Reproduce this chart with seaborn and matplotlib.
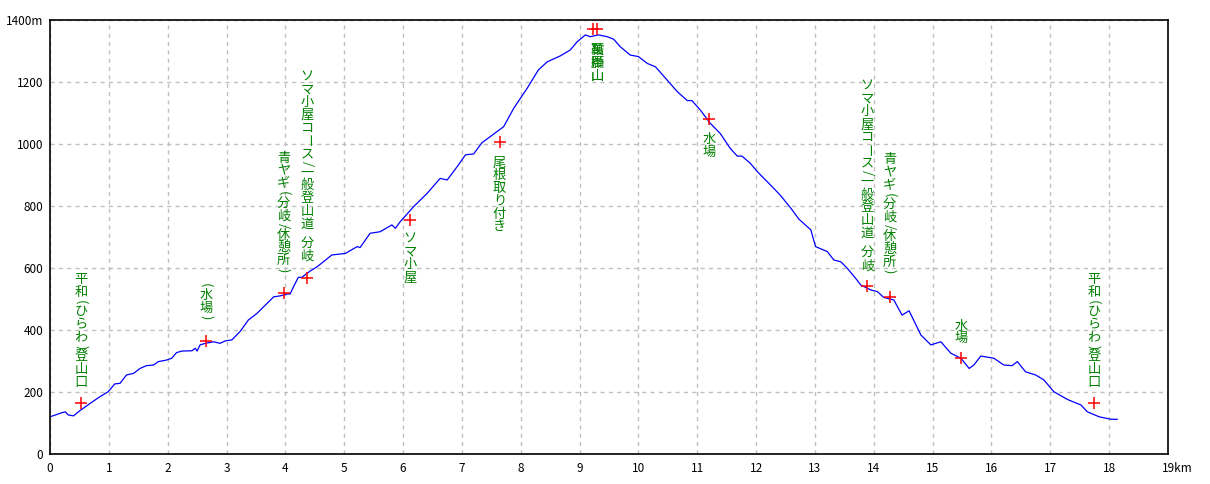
import pandas as pd
import seaborn as sns
import matplotlib.pyplot as plt
from matplotlib.transforms import offset_copy, ScaledTranslation

# elevation profile (km, m)
dist_km = [0.0, 0.2, 0.26, 0.31, 0.4, 0.51, 0.68, 0.85, 0.99, 1.1, 1.19, 1.3, 1.42, 1.53,
           1.64, 1.76, 1.84, 1.98, 2.07, 2.15, 2.24, 2.41, 2.47, 2.5, 2.55, 2.64, 2.78,
           2.89, 2.98, 3.09, 3.23, 3.37, 3.52, 3.63, 3.74, 3.8, 3.91, 4.03, 4.08, 4.14,
           4.22, 4.28, 4.42, 4.54, 4.79, 5.02, 5.22, 5.27, 5.44, 5.61, 5.81, 5.87, 5.95,
           6.18, 6.41, 6.63, 6.75, 6.92, 7.06, 7.2, 7.34, 7.54, 7.71, 7.88, 8.11, 8.3,
           8.45, 8.67, 8.84, 8.96, 9.1, 9.18, 9.32, 9.47, 9.58, 9.69, 9.86, 10.0, 10.15,
           10.29, 10.49, 10.66, 10.83, 10.91, 11.05, 11.22, 11.39, 11.56, 11.68, 11.76,
           11.9, 12.02, 12.16, 12.3, 12.41, 12.59, 12.73, 12.93, 13.01, 13.21, 13.32,
           13.44, 13.55, 13.69, 13.78, 13.95, 14.06, 14.17, 14.34, 14.48, 14.6, 14.8,
           14.97, 15.14, 15.31, 15.48, 15.62, 15.7, 15.82, 16.04, 16.21, 16.35, 16.44,
           16.58, 16.75, 16.89, 17.06, 17.29, 17.52, 17.63, 17.83, 18.03, 18.14]
elev_m = [120, 133, 136, 126, 123, 140, 163, 185, 201, 226, 228, 255, 260, 276,
          285, 287, 298, 303, 309, 327, 332, 333, 341, 332, 352, 357, 362,
          357, 365, 368, 395, 432, 454, 475, 495, 507, 510, 516, 516, 540,
          570, 570, 590, 604, 642, 647, 669, 666, 712, 717, 739, 728, 749,
          798, 841, 889, 884, 927, 965, 968, 1004, 1032, 1056, 1115, 1180, 1239,
          1265, 1284, 1303, 1330, 1352, 1346, 1352, 1346, 1338, 1314, 1287, 1282, 1260,
          1249, 1206, 1169, 1140, 1140, 1110, 1067, 1034, 986, 961, 961,
          938, 911, 884, 857, 835, 793, 757, 723, 669, 653, 626,
          620, 599, 567, 545, 529, 524, 505, 497, 448, 462, 384,
          352, 362, 325, 309, 276, 287, 316, 309, 287, 285, 298,
          265, 255, 239, 201, 176, 158, 136, 120, 112, 112]

# waypoints
point_km = [0.53, 2.65, 3.97, 4.37, 6.12, 7.64, 9.22, 9.30, 11.2, 13.89, 14.27, 15.49, 17.74]
point_m = [163, 365, 518, 569, 755, 1005, 1370, 1370, 1080, 542, 507, 309, 166]
point_names = ['平和(ひらわ)登山口', '(水場)', '青ヤギ(分岐/休憩所)', 'ソマ小屋コース/一般登山道 分岐',
               'ソマ小屋', '尾根取り付き', '鞍掛山', '萬願山', '水場',
               'ソマ小屋コース/一般登山道 分岐', '青ヤギ(分岐/休憩所)', '水場', '平和(ひらわ)登山口']

x_ticks = list(range(20))
x_labels = [str(i) for i in range(19)] + ['19km']
y_ticks = list(range(0, 1401, 200))
y_labels = [str(v) for v in y_ticks[:-1]] + ['1400m']

# label placement: +1 above the cross, -1 below; gap and x shift in pixels
label_side = [1, 1, 1, 1, -1, -1, -1, -1, -1, 1, 1, 1, 1]
label_gap = [15, 20, 20, 15, 13, 14, 15, 15, 14, 14, 22, 13, 14]
label_dx = [0, 0, 0, 0, 0, 0, 5, 0, 0, 0, 0, 0, 0]

sns.set_style('white')
plt.rcParams['font.family'] = ['Noto Sans CJK JP', 'DejaVu Sans']

fig = plt.figure(figsize=(12.1, 4.84), dpi=100)
ax = fig.add_axes([50 / 1210, 30 / 484, 1118 / 1210, 434 / 484])

profile = pd.DataFrame({'km': dist_km, 'm': elev_m})
sns.lineplot(data=profile, x='km', y='m', color='#0000ff', linewidth=0.9, ax=ax)

points = pd.DataFrame({'km': point_km, 'm': point_m})
sns.scatterplot(data=points, x='km', y='m', marker='+', s=80, color='#ff0000',
                linewidth=1.1, ax=ax, zorder=3)


def tategaki(ax, x, y, text, side, gap, dx, pitch=12.8):
    # vertical Japanese text, one character per step
    steps = [pitch / 2 if ch in '()/ ' else pitch for ch in text]
    top = gap + sum(steps) if side > 0 else -gap
    for ch, st in zip(text, steps):
        center = top - st / 2
        top -= st
        if ch == ' ':
            continue
        rot = -90 if ch in '()/ー' else 0
        tr = offset_copy(ax.transData, fig=ax.figure, x=dx, y=center, units='dots')
        ax.text(x, y, ch, transform=tr, ha='center', va='center', rotation=rot,
                color='#008000', fontsize=9.5)


for i in range(len(point_km)):
    tategaki(ax, point_km[i], point_m[i], point_names[i], label_side[i], label_gap[i], label_dx[i])

ax.set_xlim(0, 19)
ax.set_ylim(0, 1400)
ax.set_xticks(x_ticks)
ax.set_xticklabels(x_labels)
ax.set_yticks(y_ticks)
ax.set_yticklabels(y_labels)
ax.set_xlabel('')
ax.set_ylabel('')
ax.set_axisbelow(True)
ax.grid(True, color='#c0c0c0', linestyle=(0, (3, 3)), linewidth=1)
ax.tick_params(axis='both', length=0, labelsize=8.5, colors='black')
ax.tick_params(axis='x', pad=6)
ax.tick_params(axis='y', pad=5)
for sp in ax.spines.values():
    sp.set_visible(True)
    sp.set_color('black')
    sp.set_linewidth(1.2)

last = ax.get_xticklabels()[-1]
last.set_horizontalalignment('left')
last.set_transform(last.get_transform() + ScaledTranslation(-6 / 100, 0, fig.dpi_scale_trans))

fig.savefig('out.png', dpi=100)
